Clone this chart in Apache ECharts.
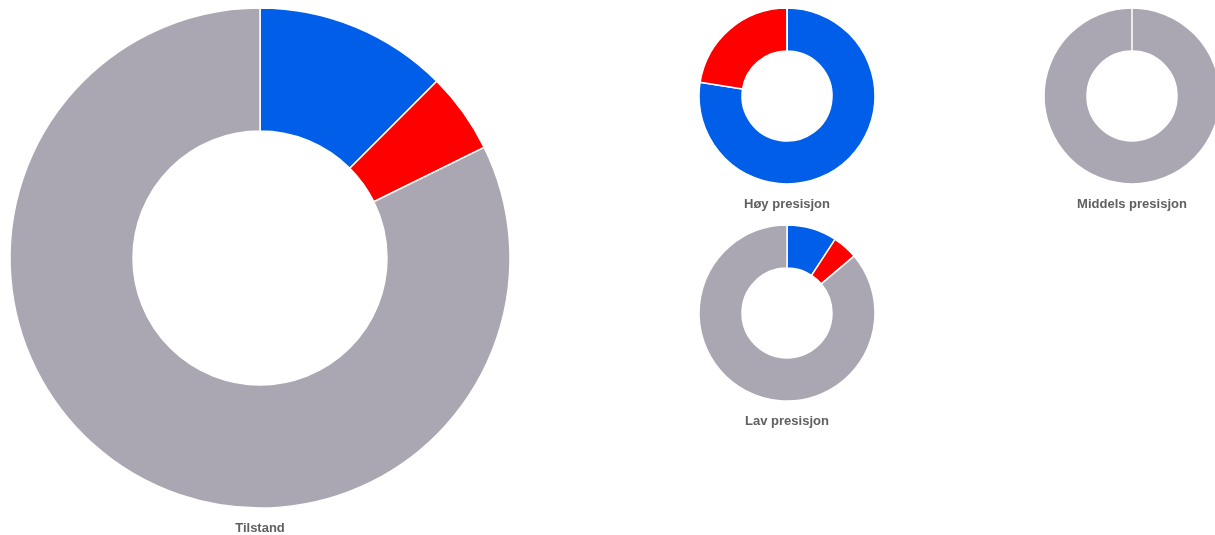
<!DOCTYPE html>
<html>
<head>
<meta charset="utf-8">
<script src="https://cdn.jsdelivr.net/npm/echarts@6/dist/echarts.min.js"></script>
<style>
  html, body { margin: 0; padding: 0; background: #fff; }
  #chart { width: 1215px; height: 535px; }
</style>
</head>
<body>
<div id="chart"></div>
<script>
// Category names and colours shared by every donut
const categories = ['Høy', 'Lav', 'Øvrig'];
const colors = ['#005ee8', '#ff0000', '#aaa6b2'];

// Shares (percent) per donut, in category order
const tilstand = [12.5, 5.2, 82.3];
const hoyPresisjon = [77.5, 22.5, 0];
const middelsPresisjon = [0, 0, 100];
const lavPresisjon = [9.2, 4.6, 86.2];

const titles = ['Tilstand', 'Høy presisjon', 'Middels presisjon', 'Lav presisjon'];

const chart = echarts.init(document.getElementById('chart'), null, { renderer: 'canvas' });

function toData(values) {
  return values.map((v, i) => ({ name: categories[i], value: v, itemStyle: { color: colors[i] } }));
}

// Layout of each donut: centre, outer and inner radius (px), label baseline
const layout = [
  { cx: 260, cy: 258, r: 250, ir: 127, ly: 528 },
  { cx: 787, cy: 96, r: 88, ir: 45, ly: 204 },
  { cx: 1132, cy: 96, r: 88, ir: 45, ly: 204 },
  { cx: 787, cy: 313, r: 88, ir: 45, ly: 421 }
];
const datasets = [tilstand, hoyPresisjon, middelsPresisjon, lavPresisjon];

const BORDER = 1.5;
const graphics = layout.map((l, i) => ({
  type: 'text',
  x: l.cx,
  y: l.ly,
  style: {
    text: titles[i],
    align: 'center',
    verticalAlign: 'middle',
    font: 'bold 13px "Liberation Sans", Arial, sans-serif',
    fill: '#606060'
  }
}));

// A ring that holds a single full slice still shows its start edge at 12 o'clock
datasets.forEach((d, i) => {
  const nonZero = d.filter(v => v > 0).length;
  if (nonZero === 1) {
    const l = layout[i];
    graphics.push({
      type: 'line',
      z: 100,
      shape: { x1: l.cx, y1: l.cy - l.r, x2: l.cx, y2: l.cy - l.ir },
      style: { stroke: '#fff', lineWidth: BORDER }
    });
  }
});

const option = {
  animation: false,
  graphic: graphics,
  series: layout.map((l, i) => ({
    type: 'pie',
    center: [l.cx, l.cy],
    radius: [l.ir, l.r],
    startAngle: 90,
    clockwise: true,
    label: { show: false },
    labelLine: { show: false },
    emphasis: { disabled: true },
    itemStyle: { borderColor: '#fff', borderWidth: BORDER },
    data: toData(datasets[i])
  }))
};

chart.setOption(option);
</script>
</body>
</html>
